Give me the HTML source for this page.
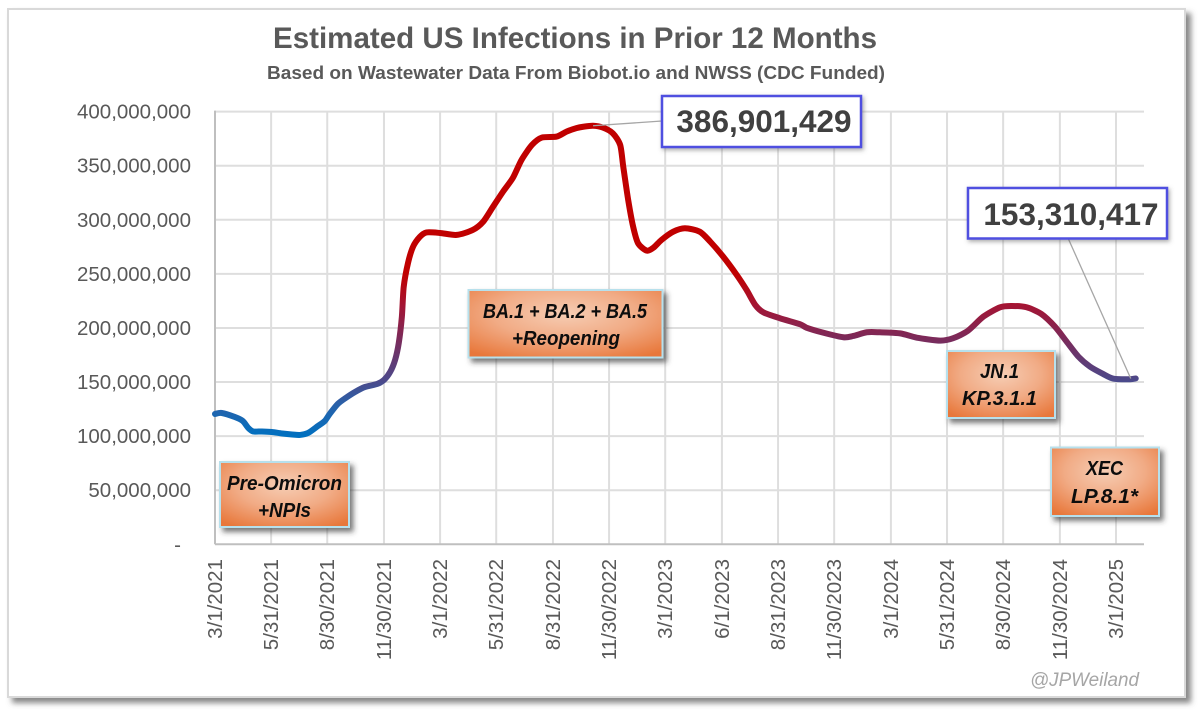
<!DOCTYPE html>
<html lang="en">
<head>
<meta charset="utf-8">
<title>Estimated US Infections in Prior 12 Months</title>
<style>
html,body{margin:0;padding:0;background:#fff;}
body{width:1200px;height:714px;overflow:hidden;}
svg{display:block;font-family:"Liberation Sans",sans-serif;}
.ann{font-weight:700;font-style:italic;fill:#0d0d0d;font-size:20.5px;text-anchor:middle;}
</style>
</head>
<body>
<svg id="chart" width="1200" height="714" viewBox="0 0 1200 714" xmlns="http://www.w3.org/2000/svg">
  <defs>
    <filter id="frameShadow" x="-3%" y="-3%" width="106%" height="106%">
      <feDropShadow dx="5" dy="5" stdDeviation="3" flood-color="#555" flood-opacity="0.7"/>
    </filter>
    <filter id="boxShadow" x="-15%" y="-25%" width="130%" height="150%">
      <feDropShadow dx="3.5" dy="4" stdDeviation="2.6" flood-color="#333" flood-opacity="0.65"/>
    </filter>
    <filter id="calloutShadow" x="-10%" y="-20%" width="120%" height="140%">
      <feDropShadow dx="1.5" dy="2" stdDeviation="2" flood-color="#555" flood-opacity="0.5"/>
    </filter>
    <radialGradient id="orangeFill" cx="50%" cy="35%" r="75%">
      <stop offset="0" stop-color="#f6cdb4"/>
      <stop offset="0.5" stop-color="#f1ab85"/>
      <stop offset="1" stop-color="#e8773a"/>
    </radialGradient>
  </defs>

  <rect x="8" y="9" width="1177" height="688" fill="#fff" stroke="#d9d9d9" stroke-width="2" filter="url(#frameShadow)"/>

  <text x="575" y="48" text-anchor="middle" font-size="30" font-weight="700" fill="#595959" textLength="604" lengthAdjust="spacingAndGlyphs">Estimated US Infections in Prior 12 Months</text>
  <text x="576" y="79" text-anchor="middle" font-size="18" font-weight="700" fill="#595959" textLength="618" lengthAdjust="spacingAndGlyphs">Based on Wastewater Data From Biobot.io and NWSS (CDC Funded)</text>

  <g id="grid"></g>
  <g id="yAxis"></g>
  <g id="xAxis"></g>
  <g id="series"></g>
  <g id="leaders"></g>

  <g>
    <rect x="662" y="96" width="199" height="51" fill="#fff" stroke="#4f4fe0" stroke-width="2.5" filter="url(#calloutShadow)"/>
    <text x="764" y="132" text-anchor="middle" font-size="31.5" font-weight="700" fill="#404040">386,901,429</text>
  </g>
  <g>
    <rect x="968" y="188" width="199" height="50.5" fill="#fff" stroke="#4f4fe0" stroke-width="2.5" filter="url(#calloutShadow)"/>
    <text x="1071" y="225" text-anchor="middle" font-size="31.5" font-weight="700" fill="#404040">153,310,417</text>
  </g>

  <g>
    <rect x="220" y="462" width="129" height="65" fill="url(#orangeFill)" stroke="#b7e0ec" stroke-width="2" filter="url(#boxShadow)"/>
    <text class="ann" x="284.5" y="490" textLength="115" lengthAdjust="spacingAndGlyphs">Pre-Omicron</text>
    <text class="ann" x="284.5" y="517" textLength="53" lengthAdjust="spacingAndGlyphs">+NPIs</text>
  </g>
  <g>
    <rect x="468.5" y="290" width="194" height="67.5" fill="url(#orangeFill)" stroke="#b7e0ec" stroke-width="2" filter="url(#boxShadow)"/>
    <text class="ann" x="565" y="318" textLength="164" lengthAdjust="spacingAndGlyphs">BA.1 + BA.2 + BA.5</text>
    <text class="ann" x="566" y="345" textLength="108" lengthAdjust="spacingAndGlyphs">+Reopening</text>
  </g>
  <g>
    <rect x="947" y="351" width="108" height="67" fill="url(#orangeFill)" stroke="#b7e0ec" stroke-width="2" filter="url(#boxShadow)"/>
    <text class="ann" x="999.5" y="378" textLength="39" lengthAdjust="spacingAndGlyphs">JN.1</text>
    <text class="ann" x="999.5" y="405" textLength="75" lengthAdjust="spacingAndGlyphs">KP.3.1.1</text>
  </g>
  <g>
    <rect x="1051" y="447.5" width="108" height="68.5" fill="url(#orangeFill)" stroke="#b7e0ec" stroke-width="2" filter="url(#boxShadow)"/>
    <text class="ann" x="1104.5" y="475" textLength="37" lengthAdjust="spacingAndGlyphs">XEC</text>
    <text class="ann" x="1104.5" y="503" textLength="67" lengthAdjust="spacingAndGlyphs">LP.8.1*</text>
  </g>

  <text x="1139" y="686" text-anchor="end" font-size="19" font-style="italic" fill="#a6a6a6" textLength="109" lengthAdjust="spacingAndGlyphs">@JPWeiland</text>
</svg>

<script>
const yTicks = [0, 50000000, 100000000, 150000000, 200000000, 250000000, 300000000, 350000000, 400000000];
const xTickDates = ["2021-03-01","2021-05-31","2021-08-30","2021-11-30","2022-03-01","2022-05-31","2022-08-31","2022-11-30","2023-03-01","2023-06-01","2023-08-31","2023-11-30","2024-03-01","2024-05-31","2024-08-30","2024-11-30","2025-03-01"];
const xTickLabels = ["3/1/2021","5/31/2021","8/30/2021","11/30/2021","3/1/2022","5/31/2022","8/31/2022","11/30/2022","3/1/2023","6/1/2023","8/31/2023","11/30/2023","3/1/2024","5/31/2024","8/30/2024","11/30/2024","3/1/2025"];
const dates = ["2021-03-01","2021-03-12","2021-04-02","2021-04-15","2021-04-24","2021-05-02","2021-05-16","2021-06-01","2021-06-18","2021-07-04","2021-07-17","2021-07-30","2021-08-15","2021-08-26","2021-09-03","2021-09-16","2021-09-29","2021-10-14","2021-10-30","2021-11-19","2021-11-30","2021-12-10","2021-12-18","2021-12-24","2021-12-29","2022-01-01","2022-01-08","2022-01-16","2022-01-27","2022-02-07","2022-03-01","2022-03-28","2022-04-23","2022-05-10","2022-05-26","2022-06-11","2022-06-27","2022-07-11","2022-07-28","2022-08-13","2022-09-06","2022-09-22","2022-10-08","2022-10-19","2022-11-04","2022-11-20","2022-12-06","2022-12-18","2022-12-23","2022-12-31","2023-01-08","2023-01-16","2023-01-30","2023-02-10","2023-02-23","2023-03-14","2023-04-02","2023-04-26","2023-05-13","2023-06-03","2023-06-25","2023-07-11","2023-07-25","2023-08-07","2023-09-03","2023-10-06","2023-10-16","2023-11-12","2023-12-15","2023-12-31","2024-01-22","2024-02-12","2024-03-16","2024-04-12","2024-05-20","2024-06-10","2024-07-04","2024-07-29","2024-08-25","2024-09-13","2024-10-07","2024-10-31","2024-11-22","2024-12-11","2024-12-30","2025-01-18","2025-02-08","2025-02-25","2025-03-24","2025-04-02"];
const infections = [120.5,121.4,117.7,114.0,107.5,104.3,104.3,103.8,102.4,101.5,101.1,102.9,109.4,114.0,120.5,129.7,135.3,140.8,145.4,148.2,151.9,159.3,170.4,186.1,210.2,237.9,260.1,274.9,284.1,288.3,287.8,286.0,290.6,298.3,312.2,326.0,338.7,355.3,369.2,376.0,376.9,381.5,384.7,386.0,386.9,385.2,380.0,369.2,349.1,318.3,293.7,278.3,271.5,274.2,281.4,289.0,292.2,289.0,279.8,265.9,249.0,235.1,221.3,214.5,209.0,203.4,200.3,195.7,191.4,192.6,196.0,196.0,195.0,191.0,188.3,190.5,197.5,210.5,219.1,220.3,219.1,212.9,201.2,187.3,173.5,164.2,157.5,153.1,152.6,153.31];

const plotLeft = 215, plotRight = 1144, plotTop = 111.6, plotBottom = 544.3;
const startMs = Date.UTC(2021, 2, 1), dayMs = 86400000;
const pxPerDay = 901 / 1461;

function xScale(dateStr) {
  const p = dateStr.split('-');
  const days = (Date.UTC(+p[0], +p[1] - 1, +p[2]) - startMs) / dayMs;
  return plotLeft + days * pxPerDay;
}
function yScale(v) {
  return plotBottom - (v / 400000000) * (plotBottom - plotTop);
}
function svgEl(tag, attrs) {
  const el = document.createElementNS('http://www.w3.org/2000/svg', tag);
  for (const k in attrs) el.setAttribute(k, attrs[k]);
  return el;
}
function fmt(v) {
  return v === 0 ? '-' : v.toLocaleString('en-US');
}

const grid = document.getElementById('grid');
const yAxis = document.getElementById('yAxis');
const xAxis = document.getElementById('xAxis');
const series = document.getElementById('series');
const leaders = document.getElementById('leaders');

yTicks.forEach(function (t) {
  const y = yScale(t);
  if (t > 0) {
    const line = svgEl('line', {x1: plotLeft, x2: plotRight, y1: y, y2: y, stroke: '#dedede', 'stroke-width': 2});
    
    
    grid.appendChild(line);
  }
  const label = svgEl('text', {x: t === 0 ? 181 : 191, y: y + 7, 'text-anchor': 'end', 'font-size': 20.5, fill: '#595959'});
  label.textContent = fmt(t);
  
  
  yAxis.appendChild(label);
});

xTickDates.forEach(function (d, i) {
  const x = xScale(d);
  if (i > 0) {
    const line = svgEl('line', {x1: x, x2: x, y1: plotTop, y2: plotBottom, stroke: '#dedede', 'stroke-width': 2});
    
    
    grid.appendChild(line);
  }
  const label = svgEl('text', {transform: 'translate(' + (x + 7) + ',559) rotate(-90)', 'text-anchor': 'end', 'font-size': 20.5, fill: '#595959'});
  label.textContent = xTickLabels[i];
  
  
  xAxis.appendChild(label);
});

const axisLeft = svgEl('line', {x1: plotLeft, x2: plotLeft, y1: plotTop - 1, y2: plotBottom, stroke: '#bfbfbf', 'stroke-width': 2});


grid.appendChild(axisLeft);

const axisBottom = svgEl('line', {x1: plotLeft, x2: plotRight, y1: plotBottom, y2: plotBottom, stroke: '#bfbfbf', 'stroke-width': 2});


grid.appendChild(axisBottom);

/* colour ramp follows the value axis: blue when low, red when high */
const rampValues = [100000000, 130000000, 150000000, 190000000, 220000000, 250000000];
const rampColors = ['#0070c0', '#2a60a8', '#4a4a8c', '#7b2a5a', '#a31535', '#c00000'];
const defs = document.querySelector('svg defs');
const y0 = yScale(rampValues[0]), y1 = yScale(rampValues[rampValues.length - 1]);
const grad = svgEl('linearGradient', {id: 'lineRamp', gradientUnits: 'userSpaceOnUse', x1: 0, x2: 0, y1: y0, y2: y1});
rampValues.forEach(function (v, i) {
  grad.appendChild(svgEl('stop', {offset: (yScale(v) - y0) / (y1 - y0), 'stop-color': rampColors[i]}));
});
defs.appendChild(grad);

const pts = dates.map(function (d, i) { return [xScale(d), yScale(infections[i] * 1000000)]; });
let pathD = 'M' + pts[0][0].toFixed(2) + ' ' + pts[0][1].toFixed(2);
for (let i = 0; i < pts.length - 1; i++) {
  const p0 = pts[Math.max(i - 1, 0)], p1 = pts[i], p2 = pts[i + 1], p3 = pts[Math.min(i + 2, pts.length - 1)];
  const t = 0.13;
  const c1x = p1[0] + (p2[0] - p0[0]) * t, c1y = p1[1] + (p2[1] - p0[1]) * t;
  const c2x = p2[0] - (p3[0] - p1[0]) * t, c2y = p2[1] - (p3[1] - p1[1]) * t;
  pathD += 'C' + c1x.toFixed(2) + ' ' + c1y.toFixed(2) + ' ' + c2x.toFixed(2) + ' ' + c2y.toFixed(2) + ' ' + p2[0].toFixed(2) + ' ' + p2[1].toFixed(2);
}
const linePath = svgEl('path', {d: pathD, fill: 'none', stroke: 'url(#lineRamp)', 'stroke-width': 6, 'stroke-linejoin': 'round', 'stroke-linecap': 'round'});


series.appendChild(linePath);

let peakIndex = 0;
infections.forEach(function (v, i) { if (v > infections[peakIndex]) peakIndex = i; });
const lastIndex = infections.length - 1;

const peakLeader = svgEl('line', {x1: pts[peakIndex][0], y1: pts[peakIndex][1], x2: 662, y2: 121, stroke: '#a6a6a6', 'stroke-width': 1.3});


leaders.appendChild(peakLeader);

const lastLeader = svgEl('line', {x1: pts[lastIndex][0] - 5, y1: pts[lastIndex][1], x2: 1068, y2: 238, stroke: '#a6a6a6', 'stroke-width': 1.3});


leaders.appendChild(lastLeader);
</script>
</body>
</html>
